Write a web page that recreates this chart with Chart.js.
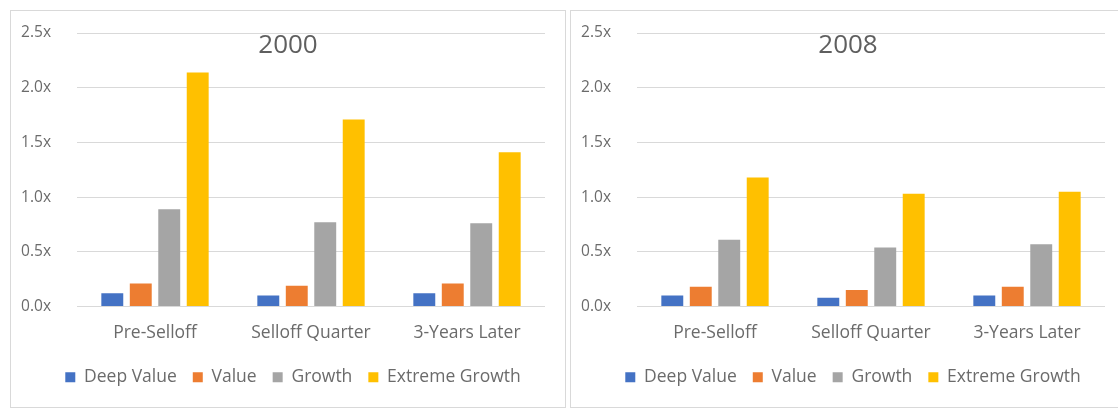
<!DOCTYPE html>
<html>
<head>
<meta charset="utf-8">
<script src="https://cdn.jsdelivr.net/npm/chart.js@4.4.1/dist/chart.umd.min.js"></script>
<style>
    html, body { margin: 0; padding: 0; background: #fff; width: 1118px; height: 410px; overflow: hidden; }
    .panel { position: absolute; top: 10px; width: 554px; height: 396px; border: 1px solid #d9d9d9; background: #fff; }
    #panel2000 { left: 10px; }
    #panel2008 { left: 570px; }
    canvas { display: block; }
</style>
</head>
<body>
<div class="panel" id="panel2000"><canvas id="chart2000" width="554" height="396"></canvas></div>
<div class="panel" id="panel2008"><canvas id="chart2008" width="554" height="396"></canvas></div>

<script>
// --- data ---
const categories = ['Pre-Selloff', 'Selloff Quarter', '3-Years Later'];
const seriesNames = ['Deep Value', 'Value', 'Growth', 'Extreme Growth'];
const seriesColors = ['#4472C4', '#ED7D31', '#A5A5A5', '#FFC000'];
const yTicks = [0, 0.5, 1.0, 1.5, 2.0, 2.5];

// multiples, year 2000
const deepValue2000 = [0.12, 0.10, 0.12];
const value2000 = [0.21, 0.19, 0.21];
const growth2000 = [0.89, 0.77, 0.76];
const extreme2000 = [2.14, 1.71, 1.41];

// multiples, year 2008
const deepValue2008 = [0.10, 0.08, 0.10];
const value2008 = [0.18, 0.15, 0.18];
const growth2008 = [0.61, 0.54, 0.57];
const extreme2008 = [1.18, 1.03, 1.05];

const FONT = "'Open Sans', 'Liberation Sans', sans-serif";
const TEXT = '#6b6b6b';

// title sits inside the plot, centred on the panel
const panelTitle = {
    id: 'panelTitle',
    afterDraw(chart, args, opts) {
        const ctx = chart.ctx;
        ctx.save();
        ctx.font = `${opts.size}px ${FONT}`;
        ctx.fillStyle = opts.color;
        ctx.textAlign = 'center';
        ctx.textBaseline = 'middle';
        ctx.fillText(opts.text, chart.width / 2, opts.y);
        ctx.restore();
    }
};

// nudge the legend row sideways once the layout is done
const legendShift = {
    id: 'legendShift',
    afterLayout(chart, args, opts) {
        const legend = chart.legend;
        if (!legend) return;
        legend.left += opts.dx;
        legend.right += opts.dx;
    }
};

const Charts = {
    init() {
        this.render('chart2000', '2000', [deepValue2000, value2000, growth2000, extreme2000]);
        this.render('chart2008', '2008', [deepValue2008, value2008, growth2008, extreme2008]);
    },

    render(id, title, values) {
        const ctx = document.getElementById(id).getContext('2d');
        new Chart(ctx, {
            type: 'bar',
            data: {
                labels: categories,
                datasets: seriesNames.map((name, i) => ({
                    label: name,
                    data: values[i],
                    backgroundColor: seriesColors[i],
                    borderWidth: 0,
                    categoryPercentage: 0.73,
                    barPercentage: 0.77
                }))
            },
            options: {
                responsive: false,
                animation: false,
                layout: { padding: { top: 22, right: 20, left: 0, bottom: 11 } },
                scales: {
                    x: {
                        grid: { display: false },
                        border: { display: false },
                        ticks: { color: TEXT, font: { family: FONT, size: 17.5 }, padding: 8 },
                        afterFit: (scale) => { scale.height = 46; }
                    },
                    y: {
                        min: 0,
                        max: 2.5,
                        afterBuildTicks: (scale) => { scale.ticks = yTicks.map(v => ({ value: v })); },
                        afterFit: (scale) => {
                            scale.width = 66;
                            // plot edges come from layout padding only
                            scale.paddingTop = 0;
                            scale.paddingBottom = 0;
                        },
                        grid: { color: '#d9d9d9', lineWidth: 1, drawTicks: false },
                        border: { display: false },
                        ticks: {
                            color: TEXT,
                            font: { family: FONT, size: 15.5 },
                            padding: 26,
                            callback: (v) => Number(v).toFixed(1) + 'x'
                        }
                    }
                },
                plugins: {
                    legend: {
                        position: 'bottom',
                        labels: {
                            color: TEXT,
                            font: { family: FONT, size: 17.5 },
                            boxWidth: 10,
                            boxHeight: 10,
                            padding: 16
                        }
                    },
                    legendShift: { dx: 15 },
                    tooltip: { enabled: false },
                    panelTitle: { text: title, y: 35, size: 26, color: '#5f5f5f' }
                }
            },
            plugins: [panelTitle, legendShift]
        });
    }
};

Charts.init();
</script>
</body>
</html>
